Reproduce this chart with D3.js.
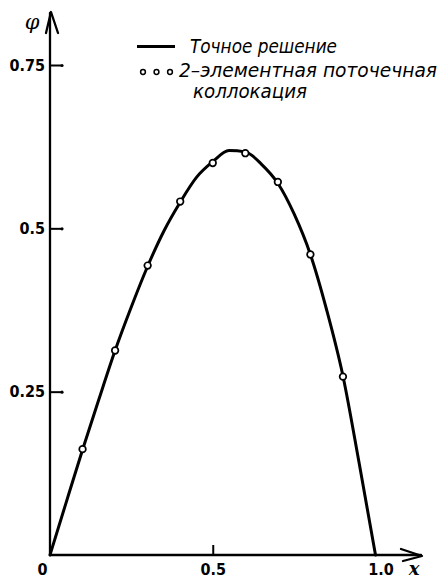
<!DOCTYPE html>
<html>
<head>
<meta charset="utf-8">
<script src="https://cdn.jsdelivr.net/npm/d3@7"></script>
<style>
  html, body { margin: 0; padding: 0; background: #fff; }
  svg { display: block; }
</style>
</head>
<body>
<svg id="chart" width="441" height="580"></svg>
<script>
// exact solution
const exactX = [0, 0.05, 0.1, 0.15, 0.2, 0.25, 0.3, 0.35, 0.4, 0.45, 0.5, 0.55, 0.6, 0.65, 0.7, 0.75, 0.8, 0.85, 0.9, 0.95, 1.0];
const exactY = [0, 0.081, 0.161, 0.238, 0.313, 0.38, 0.442, 0.496, 0.54, 0.578, 0.602, 0.619, 0.617, 0.598, 0.569, 0.522, 0.46, 0.375, 0.274, 0.14, 0];

// 2-element pointwise collocation
const collocX = [0.1, 0.2, 0.3, 0.4, 0.5, 0.6, 0.7, 0.8, 0.9];
const collocY = [0.162, 0.313, 0.443, 0.541, 0.600, 0.615, 0.571, 0.460, 0.273];

const xTicks = [0, 0.5, 1.0];
const xTickLabels = ['0', '0.5', '1.0'];
const yTicks = [0.25, 0.5, 0.75];
const yTickLabels = ['0.25', '0.5', '0.75'];

const legendLabels = ['Точное решение', '2–элементная поточечная', 'коллокация'];

const svg = d3.select('#chart');
const x = d3.scaleLinear().domain([0, 1]).range([50, 375.5]);
const y = d3.scaleLinear().domain([0, 0.75]).range([555, 65]);

const tickFont = '"DejaVu Sans Condensed", "DejaVu Sans", sans-serif';

// axes lines with arrows
const ax = svg.append('g').attr('stroke', '#000').attr('stroke-width', 2.3).attr('fill', 'none')
  .attr('stroke-linecap', 'round').attr('stroke-linejoin', 'round');
ax.append('line').attr('x1', x(0)).attr('y1', y(0)).attr('x2', x(0)).attr('y2', 13);
ax.append('path').attr('d', `M${x(0) - 4},33 L${x(0) + 1},12 L${x(0) + 8},33`);
ax.append('line').attr('x1', x(0)).attr('y1', y(0)).attr('x2', 421).attr('y2', y(0));
ax.append('path').attr('d', `M401,549 L422,556 L403,561`);

// y axis ticks (pointing inward)
const yAxis = svg.append('g')
  .attr('transform', `translate(${x(0)},0)`)
  .call(d3.axisLeft(y).tickValues(yTicks).tickSize(-11).tickPadding(5)
    .tickFormat((d, i) => yTickLabels[i]));
yAxis.select('.domain').remove();
yAxis.selectAll('.tick line').attr('stroke-width', 2);
yAxis.selectAll('.tick').append('circle').attr('cx', 12).attr('r', 1.6).attr('fill', '#000');
yAxis.selectAll('text').attr('font-family', tickFont).attr('font-weight', 'bold')
  .attr('font-size', 16).attr('fill', '#000');

// x axis ticks
const xAxis = svg.append('g')
  .attr('transform', `translate(0,${y(0)})`)
  .call(d3.axisBottom(x).tickValues(xTicks).tickSize(-10).tickPadding(9)
    .tickFormat((d, i) => xTickLabels[i]));
xAxis.select('.domain').remove();
xAxis.selectAll('.tick line').attr('stroke-width', 2)
  .attr('opacity', d => d === 0.5 ? 1 : 0);
xAxis.selectAll('text').attr('font-family', tickFont).attr('font-weight', 'bold')
  .attr('font-size', 16).attr('fill', '#000')
  .attr('dx', d => d === 0 ? -8 : d === 1 ? 5 : 0);

// axis names
svg.append('text').attr('x', 32).attr('y', 29).attr('text-anchor', 'middle')
  .attr('font-family', '"DejaVu Serif", serif').attr('font-style', 'italic')
  .attr('font-size', 21).text('φ');
svg.append('text').attr('x', 414).attr('y', 575).attr('text-anchor', 'middle')
  .attr('font-family', '"DejaVu Serif", serif').attr('font-style', 'italic')
  .attr('font-weight', 'bold').attr('font-size', 18).text('x');

// exact curve
const exactData = exactX.map((v, i) => [v, exactY[i]]);
svg.append('path')
  .datum(exactData)
  .attr('fill', 'none').attr('stroke', '#000').attr('stroke-width', 3)
  .attr('stroke-linecap', 'round')
  .attr('d', d3.line().x(d => x(d[0])).y(d => y(d[1])).curve(d3.curveMonotoneX));

// collocation points
svg.append('g').selectAll('circle')
  .data(collocX.map((v, i) => [v, collocY[i]]))
  .join('circle')
  .attr('cx', d => x(d[0])).attr('cy', d => y(d[1])).attr('r', 3.3)
  .attr('fill', '#fff').attr('stroke', '#000').attr('stroke-width', 1.7);

// legend
const lg = svg.append('g');
lg.append('line').attr('x1', 137).attr('x2', 175).attr('y1', 46.5).attr('y2', 46.5)
  .attr('stroke', '#000').attr('stroke-width', 3);
lg.selectAll('circle').data([143, 156.5, 170]).join('circle')
  .attr('cx', d => d).attr('cy', 72).attr('r', 2.4)
  .attr('fill', '#fff').attr('stroke', '#000').attr('stroke-width', 1.5);
const legendPos = [[190, 53, 147], [179, 77, 258], [193, 98, 114]];
lg.selectAll('text').data(legendLabels).join('text')
  .attr('x', (d, i) => legendPos[i][0]).attr('y', (d, i) => legendPos[i][1])
  .attr('textLength', (d, i) => legendPos[i][2]).attr('lengthAdjust', 'spacingAndGlyphs')
  .attr('font-family', tickFont).attr('font-style', 'italic')
  .attr('font-size', 19).attr('fill', '#000')
  .text(d => d);
</script>
</body>
</html>
